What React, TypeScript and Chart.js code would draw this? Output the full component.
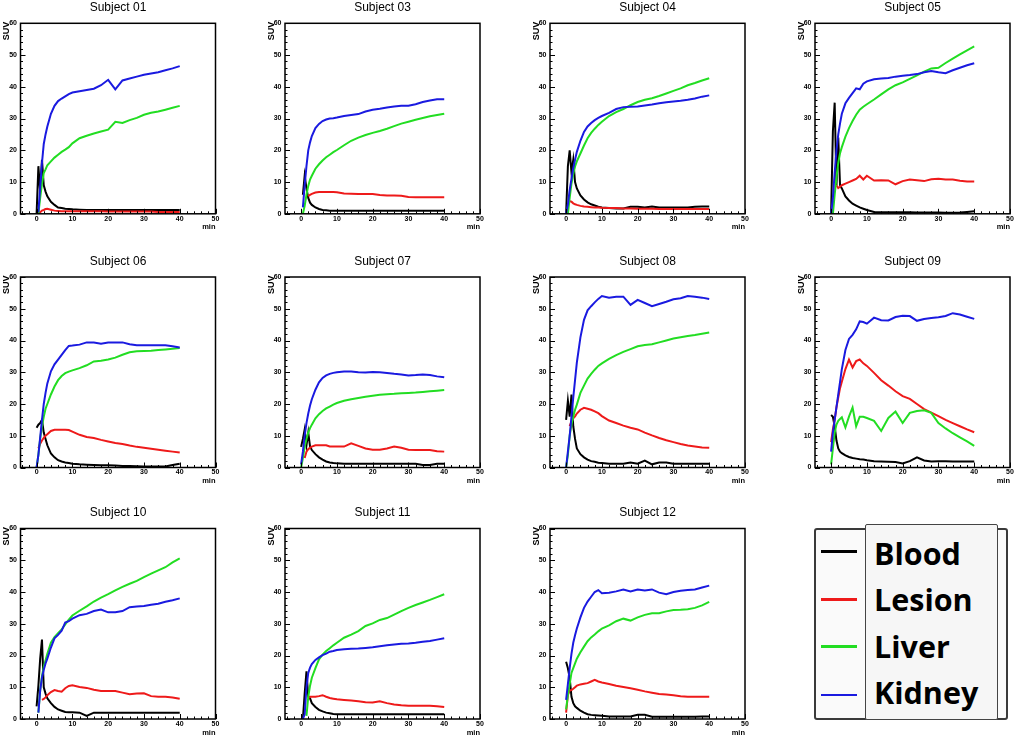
import React, { useEffect, useRef } from "react";
import { Chart, registerables } from "chart.js";

Chart.register(...registerables);

// ---------- data ----------
const TIME = [0, 0.5, 1, 1.5, 2, 2.5, 3, 4, 5, 6, 7, 8, 9, 10, 12, 14, 16, 18, 20, 22, 24, 26, 28, 30, 32, 34, 36, 38, 40];
const X_LABELS = [0, 10, 20, 30, 40, 50];
const Y_LABELS = [0, 10, 20, 30, 40, 50, 60];
const SERIES_NAMES = ["Blood", "Lesion", "Liver", "Kidney"];
const SERIES_COLORS = ["#000000", "#ee1a1a", "#22dd22", "#1a1ae0"];
const SUBJECTS = ["Subject 01", "Subject 03", "Subject 04", "Subject 05", "Subject 06", "Subject 07", "Subject 08", "Subject 09", "Subject 10", "Subject 11", "Subject 12"];

const blood01 = [0, 15, 7, 17, 9, 7, 5.5, 3.8, 2.8, 2, 1.8, 1.6, 1.5, 1.4, 1.3, 1.2, 1.2, 1.2, 1.2, 1.2, 1.2, 1.2, 1.2, 1.2, 1.2, 1.2, 1.2, 1.2, 1.2];
const lesion01 = [null, 0, 0.5, 1, 1.2, 1.5, 1.6, 1.3, 1.0, 0.9, 0.8, 0.8, 0.8, 0.8, 0.8, 0.8, 0.8, 0.8, 0.7, 0.7, 0.7, 0.7, 0.7, 0.7, 0.7, 0.6, 0.6, 0.6, 0.6];
const liver01 = [null, 0, 5, 9.5, 12.8, 14, 15.3, 16.5, 17.7, 18.6, 19.5, 20.2, 21, 22.2, 23.8, 24.6, 25.3, 25.9, 26.5, 29, 28.6, 29.5, 30.2, 31.2, 31.8, 32.2, 32.8, 33.4, 34];
const kidney01 = [null, 0.5, 8.5, 16, 22, 25, 27.5, 31.5, 34, 35.5, 36.3, 37, 37.7, 38.2, 38.6, 39, 39.4, 40.5, 42.2, 39.2, 42, 42.6, 43.2, 43.8, 44.2, 44.6, 45.2, 45.8, 46.5];

const blood03 = [null, 6, 12, 8, 5, 3.5, 2.8, 2, 1.5, 1.2, 1.1, 1, 1, 1, 1, 1, 1, 1, 1, 1, 1, 1, 1, 1, 1, 1, 1, 1, 1];
const lesion03 = [null, null, null, null, 5.5, 6, 6.3, 6.7, 6.9, 6.9, 6.9, 6.9, 6.9, 6.8, 6.4, 6.3, 6.2, 6.2, 6.2, 5.9, 5.8, 5.8, 5.7, 5.3, 5.2, 5.2, 5.2, 5.2, 5.2];
const liver03 = [null, 0, 2.5, 6, 8.8, 10.8, 12, 14.2, 15.6, 16.8, 17.8, 18.6, 19.4, 20.1, 21.6, 23, 24, 24.8, 25.5, 26.1, 26.8, 27.6, 28.4, 29, 29.6, 30.2, 30.7, 31.1, 31.5];
const kidney03 = [null, 2, 9, 15, 20, 22.5, 24.5, 27, 28.3, 29.2, 29.7, 30, 30.1, 30.3, 30.8, 31.1, 31.4, 32.2, 32.8, 33.1, 33.5, 33.8, 34, 34, 34.5, 35.2, 35.7, 36.1, 36.1];

const blood04 = [0, 15, 20, 13, 17, 10, 8, 5.8, 4.5, 3.6, 3, 2.6, 2.2, 2, 1.8, 1.7, 1.7, 2.2, 2.2, 2, 2.3, 2, 2, 2, 2, 2, 2.2, 2.3, 2.3];
const lesion04 = [null, null, 4, 3.8, 3.3, 3, 2.8, 2.5, 2.3, 2.2, 2.1, 2, 2, 1.9, 1.8, 1.8, 1.7, 1.7, 1.6, 1.6, 1.6, 1.5, 1.5, 1.5, 1.5, 1.5, 1.5, 1.5, 1.5];
const liver04 = [null, 0, 5, 9.5, 12.5, 14.9, 16.5, 19, 21.5, 23.8, 25.5, 26.8, 28, 29, 30.8, 32, 33, 34.2, 35.2, 35.9, 36.4, 37.1, 37.9, 38.7, 39.5, 40.5, 41.2, 42, 42.7];
const kidney04 = [0, 3, 7.5, 11, 14.4, 17, 19.5, 23, 25.8, 27.5, 28.6, 29.5, 30.2, 30.8, 31.8, 33, 33.6, 33.7, 33.8, 34.1, 34.4, 34.8, 35.1, 35.4, 35.6, 35.9, 36.3, 36.9, 37.3];

const blood05 = [0, 26, 35, 9, 24, 9, 8, 5.5, 4.2, 3.2, 2.6, 2, 1.6, 1.2, 0.6, 0.5, 0.5, 0.5, 0.5, 0.5, 0.4, 0.4, 0.4, 0.4, 0.3, 0.3, 0.4, 0.6, 0.8];
const lesion05 = [null, null, null, 9, 8.1, 8.5, 9, 9.5, 10, 10.5, 11, 12, 10.8, 12, 10.5, 10.6, 10.5, 9.3, 10.3, 10.8, 10.6, 10.3, 10.9, 11, 10.8, 10.8, 10.4, 10.2, 10.2];
const liver05 = [null, 0, 6, 11.5, 16, 19.1, 21, 24.3, 27, 29.2, 31.2, 32.8, 33.7, 34.5, 36, 37.6, 39.2, 40.5, 41.4, 42.5, 43.6, 44.8, 45.8, 46, 47.5, 48.9, 50.2, 51.5, 52.7];
const kidney05 = [0, 5, 13, 20, 25, 28.5, 31.5, 34.8, 36.5, 38, 39.5, 39.2, 41, 41.7, 42.4, 42.6, 42.8, 43.2, 43.5, 43.7, 44, 44.6, 45, 44.6, 44.3, 45.2, 46, 46.8, 47.4];

const blood06 = [12.5, 13.5, 14, 15, 11, 9, 7, 4.4, 3.2, 2.3, 1.9, 1.6, 1.4, 1.2, 1, 0.9, 0.8, 0.7, 0.7, 0.6, 0.5, 0.5, 0.4, 0.3, 0.3, 0.3, 0.3, 0.8, 1.2];
const lesion06 = [null, 6, 7.5, 8.5, 9.3, 10, 10.5, 11.5, 11.9, 11.9, 11.9, 11.9, 11.8, 11.3, 10.3, 9.6, 9.3, 8.7, 8.2, 7.7, 7.4, 6.9, 6.5, 6.2, 5.9, 5.6, 5.3, 5, 4.7];
const liver06 = [0, 4, 9, 13, 16, 18.5, 20, 23, 25.5, 27.5, 28.8, 29.7, 30.2, 30.6, 31.3, 32.2, 33.4, 33.6, 34, 34.6, 35.5, 36.3, 36.6, 36.7, 36.8, 37, 37.2, 37.4, 37.6];
const kidney06 = [0, 4, 9.5, 15, 20, 23.5, 26.5, 30.3, 32.5, 34, 35.5, 37, 38.3, 38.4, 38.7, 39.4, 39.4, 39, 39.4, 39.4, 39.4, 38.8, 38.5, 38.5, 38.5, 38.5, 38.5, 38.2, 37.8];

const blood07 = [6.5, 9, 12, 7, 11, 6.6, 5.5, 4.2, 3.2, 2.5, 1.9, 1.6, 1.4, 1.3, 1.2, 1.2, 1.2, 1.2, 1.2, 1.2, 1.2, 1.2, 1.2, 1.2, 1.2, 0.8, 0.8, 1.2, 1.2];
const lesion07 = [null, null, 3, 5, 5.8, 6.2, 6.6, 7, 7, 7, 7, 6.6, 6.6, 6.6, 6.6, 7.6, 6.8, 6, 5.6, 5.6, 6, 6.6, 6.2, 5.6, 5.5, 5.5, 5.5, 5.1, 5];
const liver07 = [0, 3, 6.5, 9, 11, 12.4, 13.5, 15.5, 16.8, 17.8, 18.6, 19.2, 19.8, 20.3, 21, 21.5, 21.9, 22.3, 22.6, 22.9, 23.1, 23.2, 23.4, 23.5, 23.6, 23.8, 24, 24.2, 24.4];
const kidney07 = [1, 5, 10, 14, 17, 19.5, 21.5, 24.5, 26.8, 28.2, 29, 29.5, 29.8, 30, 30.2, 30.2, 30, 29.9, 30.1, 30, 29.8, 29.5, 29.3, 29, 29.1, 29.3, 29.1, 28.7, 28.4];

const blood08 = [15, 21, 16, 23, 13, 9, 6, 4.2, 3.2, 2.5, 2, 1.8, 1.5, 1.4, 1.2, 1.2, 1.2, 1.6, 1.2, 2.2, 1, 1.6, 1.6, 1.2, 1.2, 1.2, 1.2, 1.2, 1.2];
const lesion08 = [null, null, 13, 14.5, 15.5, 16.1, 17, 18.2, 18.8, 18.5, 18.2, 17.7, 17.1, 16.2, 14.8, 14, 13.2, 12.5, 12, 11, 10.1, 9.3, 8.6, 8, 7.4, 6.9, 6.6, 6.3, 6.2];
const liver08 = [0, 4, 10, 13.5, 16, 18.2, 19.8, 23.5, 25.8, 28, 29.5, 30.8, 32, 32.8, 34.2, 35.4, 36.4, 37.3, 38.2, 38.6, 38.8, 39.4, 40, 40.6, 41, 41.4, 41.7, 42.1, 42.5];
const kidney08 = [0, 5, 10, 16, 22, 27.5, 33, 41, 46.5, 49.5, 50.8, 52, 53.1, 54, 53.5, 53.8, 53.8, 51.2, 52.8, 51.8, 50.8, 51.5, 52.2, 53, 53.3, 54, 53.8, 53.5, 53.1];

const blood09 = [16.5, 16, 13, 8.5, 6, 5, 4.5, 3.8, 3.3, 3, 2.8, 2.6, 2.5, 2.3, 2, 1.9, 1.8, 1.7, 1.3, 2, 3.2, 2.2, 1.9, 2, 2, 1.9, 1.9, 1.9, 1.9];
const lesion09 = [8, 12, 15, 19, 22, 25, 27, 31, 34, 31.5, 33.5, 34, 32.8, 32, 29.8, 27.5, 25.8, 24, 22.5, 21.6, 20, 18.4, 17.3, 16.2, 15, 14, 13, 12, 11.1];
const liver09 = [1, 6, 11, 13.5, 14.7, 15.3, 15.8, 12.6, 16, 18.9, 13, 16, 16, 15.6, 14.7, 11.5, 15.6, 17.6, 14, 17.2, 17.8, 18, 17.2, 14, 12.3, 10.8, 9.5, 8.2, 6.8];
const kidney09 = [5, 11, 15, 19, 23, 27, 31, 37, 40.5, 41.8, 43.5, 46, 45.8, 45.3, 47.2, 46.4, 46.3, 47.4, 47.8, 47.7, 46.2, 46.8, 47.1, 47.3, 47.7, 48.6, 48.2, 47.5, 46.8];

const blood10 = [4, 10.5, 19, 25, 10, 8, 6.5, 5, 3.8, 3, 2.6, 2.2, 2.1, 2.1, 2, 1, 2, 2, 2, 2, 2, 2, 2, 2, 2, 2, 2, 2, 2];
const lesion10 = [null, null, null, 6, 6.3, 6.8, 7.5, 8.5, 9.1, 8.8, 8.6, 9.7, 10.4, 10.6, 10.1, 9.8, 9.2, 8.8, 8.8, 8.8, 8.3, 7.8, 8, 8.1, 7.2, 7, 7, 6.8, 6.4];
const liver10 = [null, 2, 9, 13.5, 16.5, 18.5, 20.5, 24, 25.8, 27, 28.2, 29.8, 31.3, 32.6, 34.1, 35.5, 37, 38.2, 39.3, 40.5, 41.6, 42.6, 43.5, 44.7, 45.8, 46.8, 47.8, 49.3, 50.6];
const kidney10 = [null, 2, 9, 13, 15.5, 17.5, 19, 22.5, 25.4, 26.5, 27.8, 30.4, 30.8, 31.6, 32.7, 33.1, 34, 34.5, 33.6, 33.6, 34, 35.2, 35.4, 35.6, 36, 36.3, 36.9, 37.4, 38];

const blood11 = [null, 0, 8, 15, 7, 6.5, 5, 3.8, 2.9, 2.4, 2, 1.8, 1.6, 1.5, 1.5, 1.5, 1.5, 1.5, 1.5, 1.5, 1.5, 1.5, 1.5, 1.5, 1.5, 1.5, 1.5, 1.5, 1.5];
const lesion11 = [null, null, null, null, 6.5, 7, 7, 7, 7.2, 7.5, 7, 6.6, 6.4, 6.2, 6, 5.8, 5.6, 5.3, 5.2, 5.6, 5, 4.6, 4.3, 4.2, 4.2, 4.2, 4.2, 4, 3.8];
const liver11 = [null, null, null, 1, 7, 10.5, 13, 16, 18.8, 20.3, 21.4, 22.3, 23.2, 24, 25.6, 26.6, 27.7, 29.3, 30.1, 31.2, 31.8, 32.9, 34, 35, 35.9, 36.7, 37.5, 38.4, 39.3];
const kidney11 = [null, 0, 1.5, 10, 14.5, 16.2, 17.3, 18.6, 19.4, 20.1, 20.6, 21.2, 21.4, 21.7, 22, 22.1, 22.2, 22.4, 22.6, 22.9, 23.2, 23.5, 23.7, 23.8, 24, 24.3, 24.6, 25, 25.4];

const blood12 = [18, 16, 13, 7, 5, 4, 3.5, 2.6, 2, 1.5, 1.3, 1.2, 1.1, 1, 0.8, 0.8, 0.8, 0.8, 1.3, 1.3, 0.7, 0.7, 0.7, 0.7, 0.7, 0.7, 0.7, 0.8, 0.8];
const lesion12 = [2, 7.5, 9, 9.1, 9.5, 10, 10.5, 10.9, 11.1, 11.3, 11.8, 12.3, 11.8, 11.5, 11, 10.5, 10.1, 9.7, 9.2, 8.7, 8.3, 7.9, 7.7, 7.5, 7.2, 7, 7, 7, 7];
const liver12 = [3, 7.5, 11, 14.5, 16, 17.5, 19, 21, 22.8, 24.5, 25.7, 26.6, 27.6, 28.5, 29.5, 30.8, 31.6, 31, 32, 32.8, 33.3, 33.3, 33.9, 34.3, 34.4, 34.6, 35, 35.8, 36.9];
const kidney12 = [6, 11, 16, 20.5, 24, 26.4, 28.5, 32, 35, 37, 38.5, 40, 40.6, 39.6, 39.8, 40.2, 40.8, 40.2, 40.8, 40.5, 40.8, 39.8, 39.3, 40, 40.4, 40.6, 40.8, 41.4, 42];

const SUBJECT_SERIES = [
  [blood01, lesion01, liver01, kidney01],
  [blood03, lesion03, liver03, kidney03],
  [blood04, lesion04, liver04, kidney04],
  [blood05, lesion05, liver05, kidney05],
  [blood06, lesion06, liver06, kidney06],
  [blood07, lesion07, liver07, kidney07],
  [blood08, lesion08, liver08, kidney08],
  [blood09, lesion09, liver09, kidney09],
  [blood10, lesion10, liver10, kidney10],
  [blood11, lesion11, liver11, kidney11],
  [blood12, lesion12, liver12, kidney12],
];

// ---------- layout ----------
const PLOT_LEFT = [20.5, 285, 550, 815];
const PLOT_TOP = [23.3, 277, 528.5];
const PLOT_W = 195;
const PLOT_H = 190.5;
const CANVAS_W = 232;
const CANVAS_H = 240;
const X_MIN = -4.5;
const X_MAX = 50;
const Y_MIN = 0;
const Y_MAX = 60;

const rootAxesPlugin = {
  id: "rootAxes",
  afterDatasetsDraw(chart: any, _args: any, opts: any) {
    const { ctx, chartArea: a, scales } = chart;
    const xs = scales.x;
    const ys = scales.y;
    ctx.save();
    ctx.strokeStyle = "#000";
    ctx.lineWidth = 1.5;
    ctx.strokeRect(a.left, a.top, a.right - a.left, a.bottom - a.top);
    ctx.lineWidth = 1;
    ctx.beginPath();
    for (let v = Y_MIN; v <= Y_MAX; v += 2) {
      const py = Math.round(ys.getPixelForValue(v)) + 0.5;
      const len = v % 10 === 0 ? 5 : 2.5;
      ctx.moveTo(a.left, py);
      ctx.lineTo(a.left + len, py);
    }
    for (let v = -4; v <= X_MAX; v += 2) {
      const px = Math.round(xs.getPixelForValue(v)) + 0.5;
      const len = v % 10 === 0 ? 5 : 2.5;
      ctx.moveTo(px, a.bottom);
      ctx.lineTo(px, a.bottom - len);
    }
    ctx.stroke();

    ctx.fillStyle = "#000";
    ctx.font = 'bold 7px "Liberation Sans", Arial, sans-serif';
    ctx.textAlign = "right";
    ctx.textBaseline = "middle";
    Y_LABELS.forEach((v) => ctx.fillText(String(v), a.left - 3.5, ys.getPixelForValue(v)));
    ctx.textAlign = "center";
    ctx.textBaseline = "top";
    X_LABELS.forEach((v) => ctx.fillText(String(v), xs.getPixelForValue(v), a.bottom + 1.5));

    ctx.font = 'bold 7.5px "Liberation Sans", Arial, sans-serif';
    ctx.textAlign = "right";
    ctx.textBaseline = "middle";
    ctx.fillText("min", a.right, a.bottom + 13.5);

    ctx.save();
    ctx.translate(a.left - 13.5, a.top - 1.5);
    ctx.rotate(-Math.PI / 2);
    ctx.font = 'bold 9px "Liberation Sans", Arial, sans-serif';
    ctx.textAlign = "right";
    ctx.textBaseline = "middle";
    ctx.fillText("SUV", 0, 0);
    ctx.restore();

    ctx.font = '12px "Liberation Sans", Arial, sans-serif';
    ctx.textAlign = "center";
    ctx.textBaseline = "middle";
    ctx.fillText(opts.title, (a.left + a.right) / 2, a.top - 15.5);
    ctx.restore();
  },
};

function Panel({ index }: { index: number }) {
  const ref = useRef<HTMLCanvasElement | null>(null);
  const row = Math.floor(index / 4);
  const col = index % 4;
  const pl = PLOT_LEFT[col];
  const pt = PLOT_TOP[row];
  const cl = Math.floor(pl) - 24;
  const ct = Math.floor(pt) - 24;
  const padLeft = pl - cl;
  const padTop = pt - ct;
  const padRight = CANVAS_W - padLeft - PLOT_W;
  const padBottom = CANVAS_H - padTop - PLOT_H;

  useEffect(() => {
    if (!ref.current) return;
    const series = SUBJECT_SERIES[index];
    const drawOrder = [3, 2, 1, 0]; // Kidney on top (first dataset drawn last)
    const datasets = drawOrder.map((s) => ({
      label: SERIES_NAMES[s],
      data: TIME.map((t, i) => ({ x: t, y: series[s][i] })).filter((p) => p.y !== null),
      borderColor: SERIES_COLORS[s],
      backgroundColor: SERIES_COLORS[s],
      borderWidth: 2,
      pointRadius: 0,
      tension: 0,
      fill: false,
    }));
    const chart = new Chart(ref.current, {
      type: "line",
      data: { datasets },
      options: {
        responsive: false,
        animation: false,
        devicePixelRatio: 1,
        events: [],
        layout: { padding: { left: padLeft, top: padTop, right: padRight, bottom: padBottom } },
        plugins: {
          legend: { display: false },
          tooltip: { enabled: false },
          title: { display: false },
          rootAxes: { title: SUBJECTS[index] },
        } as any,
        scales: {
          x: { type: "linear", min: X_MIN, max: X_MAX, display: false },
          y: { type: "linear", min: Y_MIN, max: Y_MAX, display: false },
        },
      },
      plugins: [rootAxesPlugin as any],
    });
    return () => chart.destroy();
  }, [index]);

  return (
    <canvas
      ref={ref}
      width={CANVAS_W}
      height={CANVAS_H}
      style={{ position: "absolute", left: cl, top: ct, width: CANVAS_W, height: CANVAS_H }}
    />
  );
}

const LEGEND_LINE_Y = [551.7, 599.3, 646.7, 695];
const LEGEND_TEXT_TOP = [538, 583.8, 630.8, 677.3];

function Legend() {
  return (
    <>
      <div
        style={{
          position: "absolute", left: 814, top: 528, width: 194, height: 192,
          border: "2px solid #3a3a3a", borderRadius: 3, boxSizing: "border-box", background: "#fafafa",
        }}
      />
      <div
        style={{
          position: "absolute", left: 865, top: 524, width: 133, height: 196,
          border: "1.5px solid #444", borderRadius: 2, boxSizing: "border-box", background: "#f6f6f6",
        }}
      />
      {SERIES_NAMES.map((name, i) => (
        <React.Fragment key={name}>
          <div
            style={{
              position: "absolute", left: 821, top: LEGEND_LINE_Y[i] - 1.25, width: 36, height: 2.5,
              background: SERIES_COLORS[i],
            }}
          />
          <div
            style={{
              position: "absolute", left: 874, top: LEGEND_TEXT_TOP[i], fontFamily: '"Open Sans", sans-serif',
              fontWeight: 700, fontSize: 30.5, lineHeight: "30.5px", color: "#000", whiteSpace: "nowrap",
            }}
          >
            {name}
          </div>
        </React.Fragment>
      ))}
    </>
  );
}

export default function App() {
  return (
    <div style={{ position: "absolute", left: 0, top: 0, width: 1014, height: 740, background: "#fff", overflow: "hidden" }}>
      {SUBJECTS.map((_, i) => (
        <Panel key={i} index={i} />
      ))}
      <Legend />
    </div>
  );
}
